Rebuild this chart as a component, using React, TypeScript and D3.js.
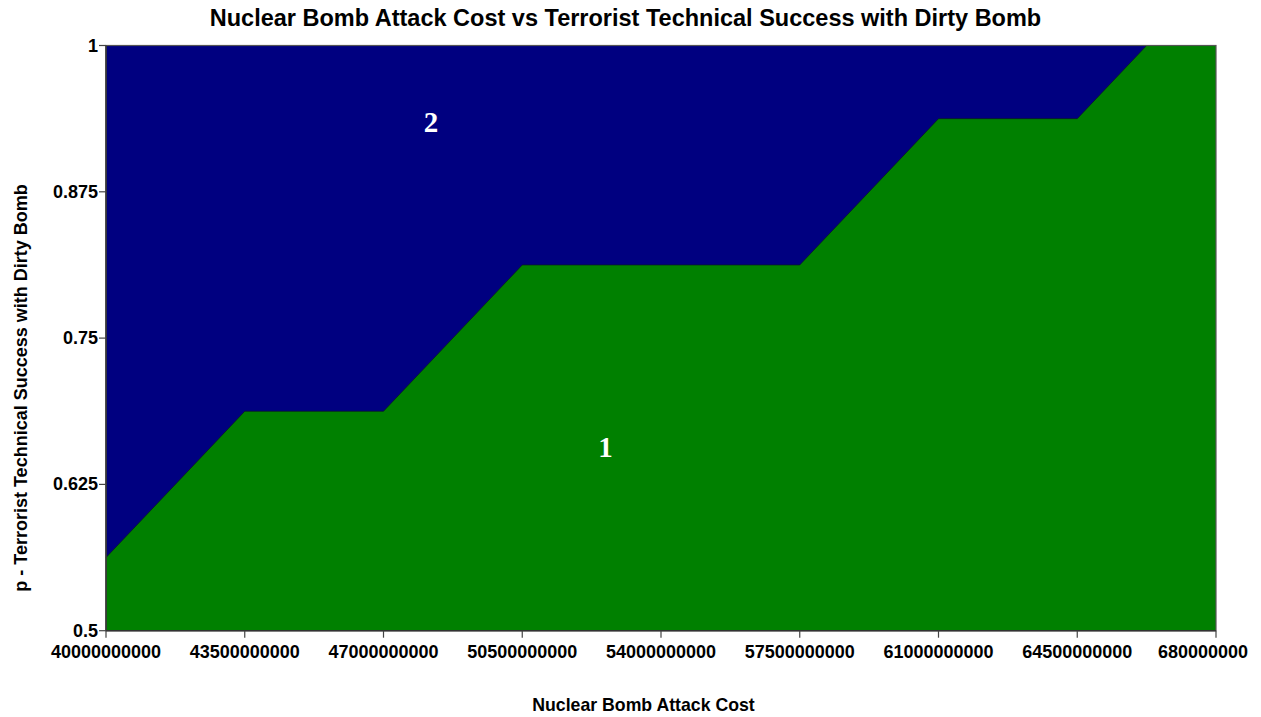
import React from "react";
import * as d3 from "d3";

// Boundary between strategy regions: p threshold as a function of attack cost
const boundaryCost = [40e9, 43.5e9, 47e9, 50.5e9, 57.5e9, 61e9, 64.5e9, 66.25e9, 68e9];
const boundaryP = [0.5625, 0.6875, 0.6875, 0.8125, 0.8125, 0.9375, 0.9375, 1, 1];

const xTickValues = [40e9, 43.5e9, 47e9, 50.5e9, 54e9, 57.5e9, 61e9, 64.5e9, 68e9];
const xTickLabels = [
  "40000000000",
  "43500000000",
  "47000000000",
  "50500000000",
  "54000000000",
  "57500000000",
  "61000000000",
  "64500000000",
  "680000000",
];
const yTickValues = [0.5, 0.625, 0.75, 0.875, 1];
const yTickLabels = ["0.5", "0.625", "0.75", "0.875", "1"];

const regionNames = ["2", "1"];
const regionCost = [48.2e9, 52.6e9];
const regionP = [0.9345, 0.657];

const title = "Nuclear Bomb Attack Cost vs Terrorist Technical Success with Dirty Bomb";
const xTitle = "Nuclear Bomb Attack Cost";
const yTitle = "p - Terrorist Technical Success with Dirty Bomb";

const W = 1261;
const H = 717;
const left = 106;
const right = 1216;
const top = 45.5;
const bottom = 630.7;
// tick labels are kept inside the canvas edge
const labelEdge = W - 13;

export default function App() {
  const x = d3.scaleLinear().domain([40e9, 68e9]).range([left, right]);
  const y = d3.scaleLinear().domain([0.5, 1]).range([bottom, top]);

  const pts = boundaryCost.map((c, i) => [c, boundaryP[i]] as [number, number]);
  const area = d3
    .area<[number, number]>()
    .x((d) => x(d[0]))
    .y0(() => y(0.5))
    .y1((d) => y(d[1]));
  const line = d3
    .line<[number, number]>()
    .x((d) => x(d[0]))
    .y((d) => y(d[1]));

  const font = "'Liberation Sans', Arial, sans-serif";
  const digitW = 18 * 0.556;

  return (
    <svg
      width={W}
      height={H}
      style={{ position: "absolute", left: 0, top: 0, background: "#fff" }}
    >
      <text
        x={625.5}
        y={26}
        textAnchor="middle"
        fontFamily={font}
        fontWeight="bold"
        fontSize={23.5}
        fill="#000"
      >
        {title}
      </text>

      {/* region fills */}
      <rect x={left} y={top} width={right - left} height={bottom - top} fill="#000080" />
      <path d={area(pts) ?? ""} fill="#008000" />
      <path d={line(pts) ?? ""} fill="none" stroke="#0a1a20" strokeWidth={1} strokeOpacity={0.7} />

      {regionNames.map((n, i) => (
        <text
          key={n}
          x={x(regionCost[i])}
          y={y(regionP[i])}
          textAnchor="middle"
          dominantBaseline="central"
          fontFamily="'Liberation Serif', 'Times New Roman', serif"
          fontWeight="bold"
          fontSize={29}
          fill="#fff"
        >
          {n}
        </text>
      ))}

      {/* frame */}
      <rect
        x={left}
        y={top}
        width={right - left}
        height={bottom - top}
        fill="none"
        stroke="#555"
        strokeWidth={1.2}
      />
      <line x1={left} x2={left} y1={top} y2={bottom} stroke="#333" strokeWidth={1.5} />
      <line x1={left} x2={right} y1={bottom} y2={bottom} stroke="#333" strokeWidth={1.5} />

      {/* y axis */}
      {yTickValues.map((v, i) => (
        <g key={v}>
          <line x1={left - 7} x2={left} y1={y(v)} y2={y(v)} stroke="#444" strokeWidth={1.2} />
          <text
            x={left - 8}
            y={y(v)}
            textAnchor="end"
            dominantBaseline="central"
            fontFamily={font}
            fontWeight="bold"
            fontSize={18}
            fill="#000"
          >
            {yTickLabels[i]}
          </text>
        </g>
      ))}

      {/* x axis */}
      {xTickValues.map((v, i) => {
        const half = (xTickLabels[i].length * digitW) / 2;
        const cx = Math.min(x(v), labelEdge - half);
        return (
          <g key={v}>
            <line x1={x(v)} x2={x(v)} y1={bottom} y2={bottom + 7} stroke="#444" strokeWidth={1.2} />
            <text
              x={cx}
              y={658}
              textAnchor="middle"
              fontFamily={font}
              fontWeight="bold"
              fontSize={18}
              fill="#000"
            >
              {xTickLabels[i]}
            </text>
          </g>
        );
      })}

      <text
        x={643.5}
        y={711}
        textAnchor="middle"
        fontFamily={font}
        fontWeight="bold"
        fontSize={17.7}
        fill="#000"
      >
        {xTitle}
      </text>
      <text
        transform={`translate(27, 388) rotate(-90)`}
        textAnchor="middle"
        fontFamily={font}
        fontWeight="bold"
        fontSize={18}
        fill="#000"
      >
        {yTitle}
      </text>
    </svg>
  );
}
